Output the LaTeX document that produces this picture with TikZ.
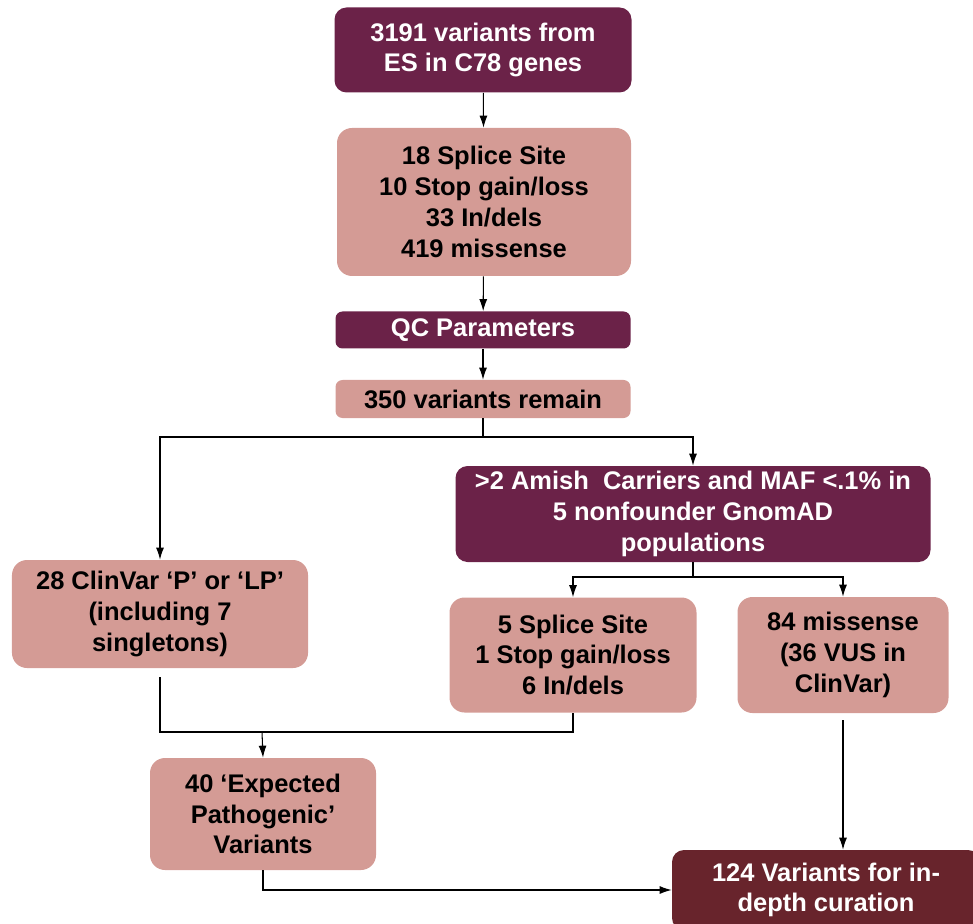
\documentclass[tikz,border=0pt]{standalone}
\usepackage{fontspec}
\setmainfont{Liberation Sans}
\usetikzlibrary{arrows.meta}
\definecolor{wine}{HTML}{6B2248}
\definecolor{rose}{HTML}{D49B95}
\definecolor{rust}{HTML}{68242C}

\begin{document}
\begin{tikzpicture}[x=0.2mm, y=-0.2mm,
    every node/.style={font=\bfseries\fontsize{14.5}{17.5}\selectfont, align=center, inner sep=2pt},
    darkbox/.style={fill=wine, text=white, rounded corners=2.4mm},
    pinkbox/.style={fill=rose, rounded corners=3mm},
    arr/.style={-{Latex[length=2.4mm,width=1.6mm]}, line width=0.6pt}]
    \useasboundingbox (0,0) rectangle (973,924);
    % boxes
    \node[darkbox, minimum width=59.4mm, minimum height=17mm] (src) at (483,50)
      {3191 variants from\\ES in C78 genes};
    \node[pinkbox, minimum width=58.8mm, minimum height=29.6mm] (types) at (484,202)
      {18 Splice Site\\10 Stop gain/loss\\33 In/dels\\419 missense};
    \node[darkbox, rounded corners=1.4mm, minimum width=59mm, minimum height=7.4mm] (qc) at (483,330)
      {QC Parameters};
    \node[pinkbox, rounded corners=1.4mm, minimum width=59mm, minimum height=7.6mm] (remain) at (483,399)
      {350 variants remain};
    \node[darkbox, minimum width=95mm, minimum height=19.2mm] (amish) at (693,514)
      {>2 Amish~ Carriers and MAF <.1\% in\\5 nonfounder GnomAD\\populations};
    \node[pinkbox, minimum width=59.2mm, minimum height=21.6mm] (clinvar) at (160,614)
      {28 ClinVar ‘P’ or ‘LP’\\(including 7\\singletons)};
    \node[pinkbox, minimum width=49.4mm, minimum height=23mm] (splice) at (573,655)
      {5 Splice Site\\1 Stop gain/loss\\6 In/dels};
    \node[pinkbox, minimum width=42.2mm, minimum height=23.2mm] (missense) at (843,655)
      {84 missense\\(36 VUS in\\ClinVar)};
    \node[pinkbox, minimum width=45.2mm, minimum height=22.4mm] (expected) at (263,814)
      {40 ‘Expected\\Pathogenic’\\Variants};
    \node[darkbox, fill=rust, minimum width=61.6mm, minimum height=16mm] (curation) at (826,890)
      {124 Variants for in-\\depth curation};
    % junctions
    \coordinate (split1) at (483,437);
    \coordinate (split2) at (693,577);
    \coordinate (join) at (262,732);
    % connectors
    \draw[arr] (src) -- (types);
    \draw[arr] (types) -- (qc);
    \draw[arr] (qc) -- (remain);
    \draw[line width=0.6pt] (remain) -- (split1);
    \draw[arr] (split1) -| (clinvar.north);
    \draw[arr] (split1) -| (amish.north);
    \draw[line width=0.6pt] (amish) -- (split2);
    \draw[arr] (split2) -| (splice.north);
    \draw[arr] (split2) -| (missense.north);
    \draw[line width=0.6pt] ([yshift=-1.8mm]clinvar.south) |- (join) -| (splice.south);
    \draw[arr] (join) -- (expected.north);
    \draw[arr] ([yshift=-1.4mm]missense.south) -- (missense.south |- curation.north);
    \draw[arr] (expected.south) |- (curation.west);
\end{tikzpicture}
\end{document}
